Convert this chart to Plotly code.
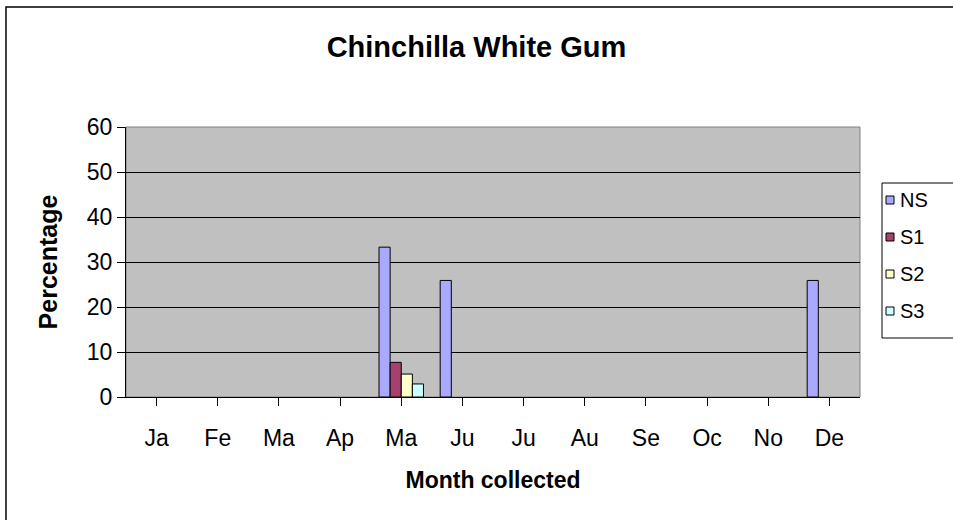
import plotly.graph_objects as go

months = ["Ja", "Fe", "Ma", "Ap", "Ma", "Ju", "Ju", "Au", "Se", "Oc", "No", "De"]
ns = [0, 0, 0, 0, 33.3, 25.9, 0, 0, 0, 0, 0, 25.9]
s1 = [0, 0, 0, 0, 7.7, 0, 0, 0, 0, 0, 0, 0]
s2 = [0, 0, 0, 0, 5.1, 0, 0, 0, 0, 0, 0, 0]
s3 = [0, 0, 0, 0, 2.9, 0, 0, 0, 0, 0, 0, 0]

series_names = ["NS", "S1", "S2", "S3"]
series_values = [ns, s1, s2, s3]
series_colors = ["#A9A9FF", "#A8406E", "#FFFFCC", "#CCFFFF"]

# months repeat their abbreviations, so position by index and label with text
idx = list(range(len(months)))

fig = go.Figure()
for name, vals, col in zip(series_names, series_values, series_colors):
    # zero entries leave an empty slot instead of a flat outlined bar
    shown = [v if v else None for v in vals]
    fig.add_trace(go.Bar(
        x=idx, y=shown, name=name, showlegend=False,
        marker=dict(color=col, line=dict(color="#000000", width=1)),
    ))

font = "Liberation Sans, Arial, sans-serif"

# plot-area geometry in pixels, used to place the legend box
W, H = 953, 520
L, R, T, B = 126, 93, 127, 123
pw, ph = W - L - R, H - T - B


def px(x):
    return (x - L) / pw


def py(y):
    return (H - B - y) / ph


shapes = [
    # plot area frame
    dict(type="rect", xref="paper", yref="paper", x0=0, x1=1, y0=0, y1=1,
         line=dict(color="#808080", width=1), layer="below"),
    # chart border
    dict(type="rect", xref="paper", yref="paper",
         x0=px(6), x1=px(W + 20), y0=py(H + 20), y1=py(7),
         line=dict(color="#000000", width=1.5)),
    # legend box
    dict(type="rect", xref="paper", yref="paper",
         x0=px(882), x1=px(W + 20), y0=py(338), y1=py(183),
         line=dict(color="#000000", width=1), fillcolor="#FFFFFF"),
]
annotations = []
for i, (name, col) in enumerate(zip(series_names, series_colors)):
    yc = 200 + 37 * i
    shapes.append(dict(type="rect", xref="paper", yref="paper",
                       x0=px(886), x1=px(894), y0=py(yc + 4), y1=py(yc - 4),
                       line=dict(color="#000000", width=1), fillcolor=col))
    annotations.append(dict(text=name, xref="paper", yref="paper",
                            x=px(898), y=py(yc), xanchor="left", yanchor="middle",
                            showarrow=False, font=dict(size=20)))

fig.update_layout(
    width=W, height=H,
    margin=dict(l=L, r=R, t=T, b=B, autoexpand=False),
    paper_bgcolor="#FFFFFF",
    plot_bgcolor="#C0C0C0",
    barmode="group",
    bargap=0.273,
    bargroupgap=0,
    showlegend=False,
    font=dict(family=font, size=23, color="#000000"),
    title=dict(text="<b>Chinchilla White Gum</b>", x=0.5, xref="container",
               xanchor="center", y=0.91, yanchor="middle",
               font=dict(family=font, size=29, color="#000000")),
    xaxis=dict(
        tickmode="array", tickvals=idx, ticktext=months,
        range=[-0.5, 11.5],
        showline=True, linecolor="#000000", linewidth=1,
        ticks="outside", ticklen=8, tickcolor="#000000",
        tickson="boundaries", showgrid=False, zeroline=False,
        tickfont=dict(size=23), ticklabelstandoff=12,
        title=dict(text="<b>Month collected</b>", standoff=22,
                   font=dict(size=23)),
    ),
    yaxis=dict(
        range=[0, 60], dtick=10,
        showline=True, linecolor="#000000", linewidth=1,
        ticks="outside", ticklen=8, tickcolor="#000000",
        showgrid=True, gridcolor="#000000", gridwidth=1,
        zeroline=False, tickfont=dict(size=23),
        title=dict(text="<b>Percentage</b>", standoff=22,
                   font=dict(size=25)),
    ),
    shapes=shapes,
    annotations=annotations,
)

fig.write_html("out.html")
